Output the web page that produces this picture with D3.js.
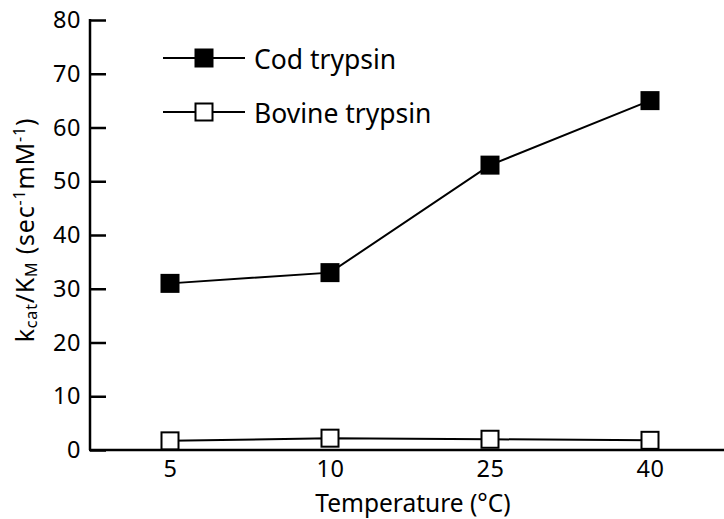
<!DOCTYPE html>
<html>
<head>
<meta charset="utf-8">
<script src="https://cdn.jsdelivr.net/npm/d3@7"></script>
<style>
  body { margin: 0; background: #fff; }
  text { font-family: "Noto Sans", "Open Sans", sans-serif; fill: #000; }
</style>
</head>
<body>
<svg id="chart"></svg>
<script>
const width = 724;
const height = 519;

// data
const temperatures = ["5", "10", "25", "40"];
const codValues = [31, 33, 53, 65];
const bovineValues = [1.7, 2.2, 2.0, 1.8];
const yTicks = [0, 10, 20, 30, 40, 50, 60, 70, 80];
const seriesNames = ["Cod trypsin", "Bovine trypsin"];

const margin = {left: 90, top: 20, bottom: 69};
const markSize = 17;

var svg = d3.select("#chart")
    .attr("width", width)
    .attr("height", height);

var x = d3.scalePoint()
    .domain(temperatures)
    .range([margin.left, 730])
    .padding(0.5);

var y = d3.scaleLinear()
    .domain([0, 80])
    .range([height - margin.bottom, margin.top]);

// y axis, ticks pointing inward
var yAxis = svg.append("g")
    .attr("transform", `translate(${margin.left},0)`)
    .call(d3.axisRight(y).tickValues(yTicks).tickSize(16).tickFormat(d3.format("d")));
yAxis.select(".domain").remove();
yAxis.selectAll(".tick line").attr("stroke", "#000").attr("stroke-width", 2.5);
yAxis.selectAll(".tick text")
    .attr("x", -9)
    .attr("text-anchor", "end")
    .attr("font-size", 23.5)
    .attr("letter-spacing", 0.5);
svg.append("line")
    .attr("x1", margin.left).attr("x2", margin.left)
    .attr("y1", y(80) - 1).attr("y2", y(0))
    .attr("stroke", "#000").attr("stroke-width", 2.5);

// x axis, no tick marks
var xAxis = svg.append("g")
    .attr("transform", `translate(0,${y(0)})`)
    .call(d3.axisBottom(x).tickSize(0).tickPadding(10));
xAxis.select(".domain").remove();
xAxis.selectAll(".tick text").attr("font-size", 23.5).attr("letter-spacing", 0.5);
svg.append("line")
    .attr("x1", margin.left - 1).attr("x2", width)
    .attr("y1", y(0)).attr("y2", y(0))
    .attr("stroke", "#000").attr("stroke-width", 2.5);

// axis titles
svg.append("text")
    .attr("x", 413)
    .attr("y", 512)
    .attr("text-anchor", "middle")
    .attr("font-size", 24.5)
    .text("Temperature (°C)");

var ylab = svg.append("text")
    .attr("transform", `translate(34,230) rotate(-90)`)
    .attr("text-anchor", "middle")
    .attr("font-size", 25)
    .attr("letter-spacing", 0.8);
ylab.append("tspan").text("k");
ylab.append("tspan").attr("font-size", 16).attr("dy", 3).text("cat");
ylab.append("tspan").attr("dy", -3).text("/K");
ylab.append("tspan").attr("font-size", 16).attr("dy", 3).text("M");
ylab.append("tspan").attr("dy", -3).text(" (sec");
ylab.append("tspan").attr("font-size", 16).attr("dy", -9).text("-1");
ylab.append("tspan").attr("dy", 9).text("mM");
ylab.append("tspan").attr("font-size", 16).attr("dy", -9).text("-1");
ylab.append("tspan").attr("dy", 9).text(")");

var line = d3.line()
    .x((d, i) => x(temperatures[i]))
    .y(d => y(d));

function drawSeries(values, fill) {
    svg.append("path")
        .datum(values)
        .attr("d", line)
        .attr("fill", "none")
        .attr("stroke", "#000")
        .attr("stroke-width", 2);
    svg.append("g")
        .selectAll("rect")
        .data(values)
        .enter().append("rect")
        .attr("x", (d, i) => x(temperatures[i]) - markSize / 2)
        .attr("y", d => y(d) - markSize / 2)
        .attr("width", markSize)
        .attr("height", markSize)
        .attr("fill", fill)
        .attr("stroke", "#000")
        .attr("stroke-width", 2);
}

drawSeries(bovineValues, "#fff");
drawSeries(codValues, "#000");

// legend
var legend = svg.append("g")
    .selectAll("g")
    .data(seriesNames)
    .enter().append("g")
    .attr("transform", (d, i) => `translate(163,${58 + i * 54})`);
legend.append("line")
    .attr("x1", 0).attr("x2", 82)
    .attr("stroke", "#000").attr("stroke-width", 2);
legend.append("rect")
    .attr("x", 41 - markSize / 2)
    .attr("y", -markSize / 2)
    .attr("width", markSize)
    .attr("height", markSize)
    .attr("fill", (d, i) => i === 0 ? "#000" : "#fff")
    .attr("stroke", "#000").attr("stroke-width", 2);
legend.append("text")
    .attr("x", 91)
    .attr("y", 11)
    .attr("font-size", 26.5)
    .text(d => d);
</script>
</body>
</html>
